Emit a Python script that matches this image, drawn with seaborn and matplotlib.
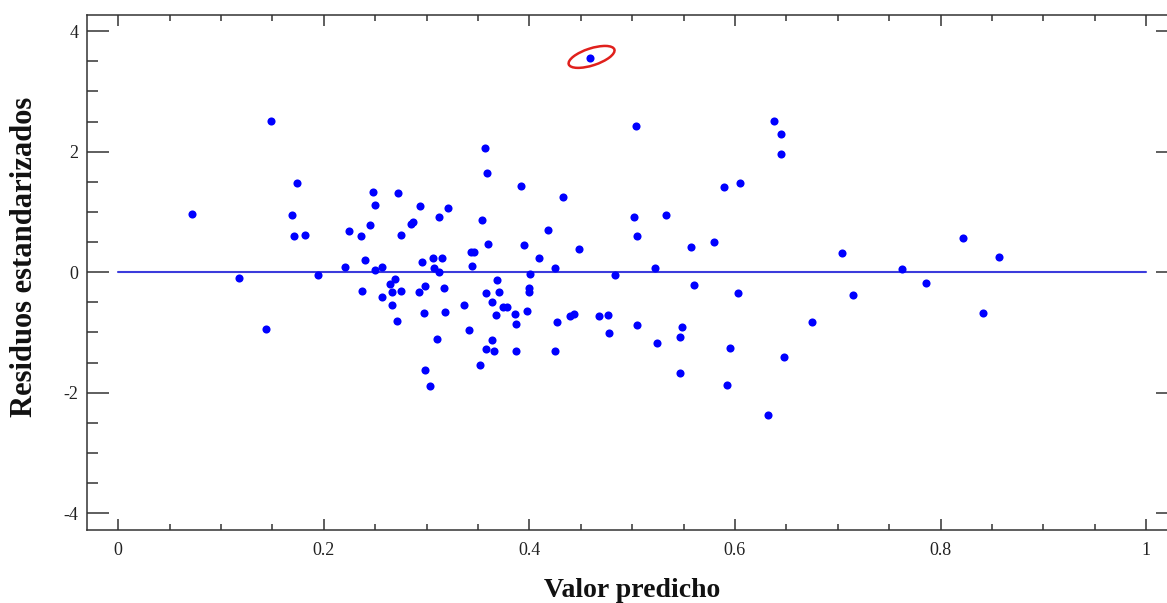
import matplotlib
matplotlib.use('Agg')
import matplotlib.pyplot as plt
import seaborn as sns
import pandas as pd
from matplotlib.patches import Ellipse
from matplotlib.ticker import MultipleLocator, FuncFormatter
from matplotlib.transforms import ScaledTranslation

# valores
predicted = [
    0.0723, 0.118, 0.1443, 0.1485, 0.1696, 0.1715, 0.1744, 0.1822, 0.1946, 0.2205,
    0.225, 0.2361, 0.2374, 0.2403, 0.2451, 0.2484, 0.2497, 0.2497, 0.2571, 0.2571,
    0.2646, 0.2662, 0.2662, 0.2698, 0.2711, 0.2727, 0.2756, 0.2756, 0.2847, 0.2867,
    0.2925, 0.2941, 0.2957, 0.2974, 0.299, 0.299, 0.3035, 0.3064, 0.3077, 0.3103,
    0.3123, 0.3126, 0.3155, 0.3168, 0.3184, 0.3213, 0.3369, 0.3418, 0.3447, 0.3435,
    0.3465, 0.3525, 0.3541, 0.3567, 0.358, 0.358, 0.3586, 0.3599, 0.3641, 0.3641,
    0.3661, 0.3674, 0.369, 0.3706, 0.3748, 0.3787, 0.3862, 0.3875, 0.3875, 0.392,
    0.3952, 0.3982, 0.4, 0.4, 0.4011, 0.4099, 0.4183, 0.4254, 0.4254, 0.4271,
    0.4332, 0.4393, 0.4439, 0.4487, 0.4591, 0.4682, 0.4763, 0.4773, 0.4838, 0.5023,
    0.5039, 0.5052, 0.5052, 0.5221, 0.5246, 0.5328, 0.5467, 0.547, 0.5483, 0.5574,
    0.56, 0.5798, 0.5892, 0.5924, 0.5957, 0.6034, 0.6047, 0.6323, 0.6381, 0.6446,
    0.6446, 0.6475, 0.6751, 0.704, 0.7146, 0.7626, 0.7863, 0.8217, 0.8414, 0.857,
]
residuals = [
    0.968, -0.105, -0.94, 2.506, 0.941, 0.597, 1.482, 0.625, -0.05, 0.083,
    0.68, 0.597, -0.315, 0.21, 0.785, 1.333, 1.123, 0.028, 0.088, -0.42,
    -0.204, -0.327, -0.548, -0.121, -0.808, 1.306, -0.315, 0.625, 0.802, 0.841,
    -0.321, 1.101, 0.161, -0.675, -0.232, -1.616, -1.887, 0.237, 0.066, -1.107,
    0.913, 0.005, 0.237, -0.271, -0.658, 1.068, -0.553, -0.968, 0.105, 0.343,
    0.343, -1.544, 0.863, 2.063, -0.343, -1.283, 1.643, 0.465, -0.503, -1.123,
    -1.306, -0.719, -0.133, -0.321, -0.575, -0.575, -0.697, -0.863, -1.306, 1.432,
    0.443, -0.653, -0.26, -0.33, -0.028, 0.237, 0.708, 0.066, -1.306, -0.835,
    1.256, -0.725, -0.702, 0.387, 3.557, -0.73, -0.708, -1.018, -0.05, 0.913,
    2.423, 0.597, -0.885, 0.061, -1.178, 0.941, -1.671, -1.073, -0.907, 0.415,
    -0.216, 0.493, 1.411, -1.881, -1.261, -0.349, 1.482, -2.379, 2.512, 2.29,
    1.959, -1.411, -0.835, 0.31, -0.371, 0.055, -0.188, 0.57, -0.68, 0.254,
]
ref_x = [0.0, 1.0]
ref_y = [0.0, 0.0]
x_ticks = [0, 0.2, 0.4, 0.6, 0.8, 1]
y_ticks = [-4, -2, 0, 2, 4]

sns.set_style('ticks')
plt.rcParams['font.family'] = ['Liberation Serif', 'DejaVu Serif']
plt.rcParams['axes.unicode_minus'] = False

fig = plt.figure(figsize=(11.67, 6.03), dpi=100)
ax = fig.add_axes([0.0746, 0.1211, 0.9349, 0.8541])

df = pd.DataFrame({'pred': predicted, 'resid': residuals})

sns.lineplot(x=ref_x, y=ref_y, color='#3c3cdc', linewidth=1.5, ax=ax)
sns.scatterplot(data=df, x='pred', y='resid', color='#0000ff', s=34,
                linewidth=0, ax=ax, zorder=3)

# circulo rojo sobre el residuo atipico
i = df['resid'].idxmax()
trans = fig.dpi_scale_trans + ScaledTranslation(df.pred[i], df.resid[i], ax.transData)
ax.add_patch(Ellipse((0.015, 0.01), 0.48, 0.17, angle=18, fill=False,
                     edgecolor='#e0201c', linewidth=1.8, transform=trans, clip_on=False))

ax.set_xlim(-0.0302, 1.0311)
ax.set_ylim(-4.28, 4.27)
ax.set_xticks(x_ticks)
ax.set_yticks(y_ticks)
ax.xaxis.set_minor_locator(MultipleLocator(0.05))
ax.yaxis.set_minor_locator(MultipleLocator(0.5))
ax.xaxis.set_major_formatter(FuncFormatter(lambda v, p: '{:g}'.format(v)))
ax.yaxis.set_major_formatter(FuncFormatter(lambda v, p: '{:g}'.format(v)))

for s in ax.spines.values():
    s.set_visible(True)
    s.set_color('#333333')
    s.set_linewidth(1.1)

ax.tick_params(axis='both', which='both', direction='in', top=True, right=True,
               colors='#333333', labelcolor='#222222', labelsize=13, width=1.1)
ax.tick_params(axis='x', which='major', length=8, pad=9)
ax.tick_params(axis='x', which='minor', length=4.5)
ax.tick_params(axis='y', which='major', length=16, pad=6)
ax.tick_params(axis='y', which='minor', length=8)

ax.set_xlabel('Valor predicho', fontsize=20, fontweight='bold', color='#111111')
ax.xaxis.set_label_coords(0.5, -0.093)
ax.set_ylabel('Residuos estandarizados', fontsize=22, fontweight='bold', color='#111111')
ax.yaxis.set_label_coords(-0.0445, 0.53)

fig.savefig('out.png', dpi=100)
